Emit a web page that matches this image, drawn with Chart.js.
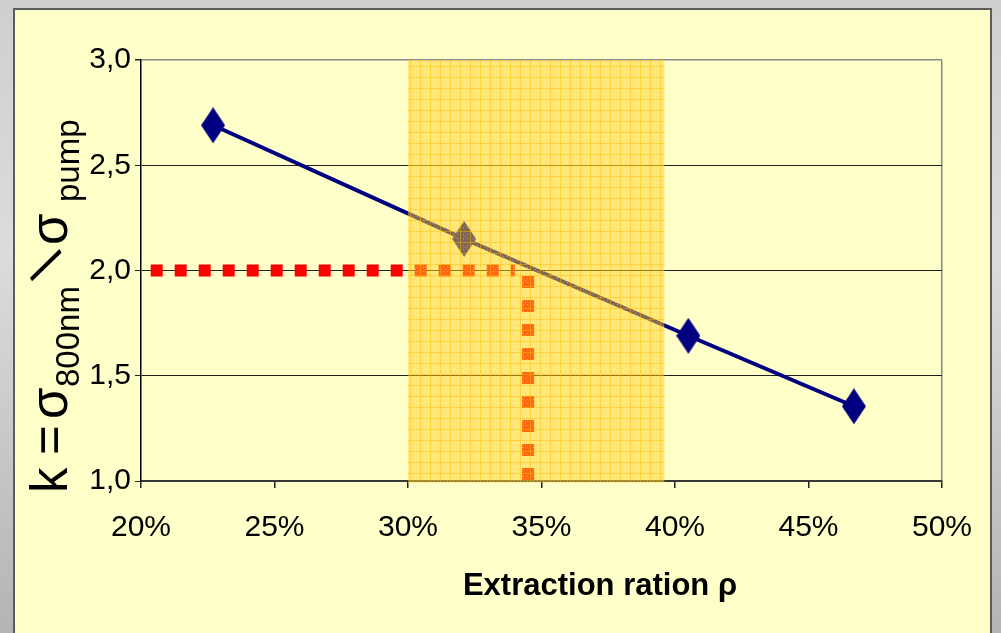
<!DOCTYPE html>
<html>
<head>
<meta charset="utf-8">
<script src="https://cdn.jsdelivr.net/npm/chart.js@4.4.1/dist/chart.umd.min.js"></script>
<style>
  html, body { margin: 0; padding: 0; }
  body {
    width: 1001px; height: 633px; overflow: hidden; position: relative;
    background: linear-gradient(to bottom, #cfcfcf 0, #dcdcdc 40%, #b4b4b4 100%);
  }
  #panel {
    position: absolute; left: 13px; top: 8px; width: 975px; height: 640px;
    background: #FFFFC9;
    border: 2px solid #5c5c5c;
  }
  #wrap { position: absolute; left: 0; top: 0; width: 1001px; height: 633px; }
</style>
</head>
<body>
<div id="panel"></div>
<div id="wrap"><canvas id="chart" width="1001" height="633"></canvas></div>
<script>
  // Measured points (extraction ratio in %, k ratio)
  var rho = [22.7, 32.1, 40.5, 46.7];
  var kRatio = [2.69, 2.15, 1.69, 1.355];

  // Shaded working range on the x axis (%)
  var bandRange = [30, 39.6];

  // Red dotted read-off lines
  var hLineX = [20, 34.0];
  var hLineY = [2.0, 2.0];
  var vLineX = [34.5, 34.5];
  var vLineY = [2.0, 1.0];

  var xTicks = [20, 25, 30, 35, 40, 45, 50];
  var yTicks = [1.0, 1.5, 2.0, 2.5, 3.0];

  var NAVY = "#000080";
  var RED = "#FF0000";
  var FONT = "'Liberation Sans', Arial, sans-serif";

  function pts(xs, ys) {
    return xs.map(function (x, i) { return { x: x, y: ys[i] }; });
  }

  // Tall diamond marker, like the Excel one
  function diamond(w, h, color) {
    var c = document.createElement("canvas");
    c.width = w; c.height = h;
    var g = c.getContext("2d");
    g.fillStyle = color;
    g.beginPath();
    g.moveTo(w / 2, 0);
    g.lineTo(w, h / 2);
    g.lineTo(w / 2, h);
    g.lineTo(0, h / 2);
    g.closePath();
    g.fill();
    return c;
  }

  // Semi transparent hatched yellow used for the band
  function bandPattern(ctx) {
    var c = document.createElement("canvas");
    c.width = 10; c.height = 11;
    var g = c.getContext("2d");
    g.fillStyle = "rgba(255,205,40,0.5)";
    g.fillRect(0, 0, 10, 11);
    g.fillStyle = "rgba(255,190,0,0.45)";
    g.fillRect(0, 0, 1, 11);
    g.fillRect(0, 0, 10, 1);
    g.fillStyle = "rgba(255,255,255,0.35)";
    [[3, 3], [7, 3], [3, 7], [7, 7], [5, 5]].forEach(function (p) { g.fillRect(p[0], p[1], 1, 1); });
    return ctx.createPattern(c, "repeat");
  }

  var bandPlugin = {
    id: "band",
    afterDatasetsDraw: function (chart) {
      var x = chart.scales.x, y = chart.scales.y, ctx = chart.ctx;
      var x0 = x.getPixelForValue(bandRange[0]);
      var x1 = x.getPixelForValue(bandRange[1]);
      var top = y.getPixelForValue(y.max), bot = y.getPixelForValue(y.min);
      ctx.save();
      ctx.fillStyle = bandPattern(ctx);
      ctx.fillRect(x0, top, x1 - x0, bot - top + 1.5);
      ctx.restore();
    }
  };

  // Axis titles (y title has subscripts, so it is drawn by hand)
  var titlePlugin = {
    id: "titles",
    afterDraw: function (chart) {
      var ctx = chart.ctx;
      ctx.save();
      ctx.fillStyle = "#000";
      ctx.textBaseline = "alphabetic";
      ctx.textAlign = "center";
      ctx.font = "bold 31px " + FONT;
      ctx.fillText("Extraction ration \u03c1", 600, 595);
      ctx.restore();

      ctx.save();
      ctx.translate(0, 493);
      ctx.rotate(-Math.PI / 2);
      ctx.fillStyle = "#000";
      ctx.textAlign = "left";
      ctx.textBaseline = "alphabetic";
      var big = "51px " + FONT, small = "33px " + FONT;
      var parts = [
        { t: "k", at: 0, f: big, b: 67 },
        { t: "=", at: 38, f: big, b: 67 },
        { t: "\u03c3", at: 74, f: big, b: 67 },
        { t: "800nm", at: 106, f: small, b: 79 },
        { t: "\u03c3", at: 248, f: big, b: 67 },
        { t: "pump", at: 291, f: small, b: 79 }
      ];
      parts.forEach(function (p) {
        ctx.font = p.f;
        ctx.fillText(p.t, p.at, p.b);
      });
      // slash, slanted as in the original
      ctx.save();
      ctx.translate(230, 49.5);
      ctx.rotate(-29 * Math.PI / 180);
      ctx.scale(-1, 1);
      ctx.font = "54px " + FONT;
      ctx.textAlign = "center";
      ctx.textBaseline = "middle";
      ctx.fillText("/", 0, 0);
      ctx.restore();
      ctx.restore();
    }
  };

  new Chart(document.getElementById("chart").getContext("2d"), {
    type: "line",
    data: {
      datasets: [{
        data: pts(rho, kRatio),
        borderColor: NAVY,
        borderWidth: 4,
        tension: 0,
        pointStyle: diamond(24, 36, NAVY),
        pointRadius: 12,
        pointHoverRadius: 12
      }, {
        data: pts(hLineX, hLineY),
        borderColor: RED,
        borderWidth: 12,
        borderDash: [12, 12],
        borderDashOffset: 14.3,
        borderCapStyle: "butt",
        pointRadius: 0
      }, {
        data: pts(vLineX, vLineY),
        borderColor: RED,
        borderWidth: 12,
        borderDash: [12, 12],
        borderDashOffset: 18.5,
        borderCapStyle: "butt",
        pointRadius: 0
      }]
    },
    options: {
      responsive: false,
      animation: false,
      events: [],
      layout: { padding: { left: 0, top: 60, right: 59, bottom: 0 } },
      plugins: { legend: { display: false }, tooltip: { enabled: false } },
      scales: {
        x: {
          type: "linear",
          min: xTicks[0], max: xTicks[xTicks.length - 1],
          afterFit: function (s) { s.height = 152; },
          afterBuildTicks: function (s) { s.ticks = xTicks.map(function (v) { return { value: v }; }); },
          border: { display: true, color: "#383838", width: 2 },
          grid: {
            drawOnChartArea: true,
            color: function (c) { return c.tick && c.tick.value === 50 ? "#8a8a8a" : "rgba(0,0,0,0)"; },
            lineWidth: 1.5,
            tickColor: "#222",
            tickLength: 7
          },
          ticks: {
            padding: 22,
            color: "#000",
            font: { family: FONT, size: 30 },
            callback: function (v) { return v + "%"; }
          }
        },
        y: {
          min: 1, max: 3,
          afterFit: function (s) { s.width = 141; },
          afterBuildTicks: function (s) { s.ticks = yTicks.map(function (v) { return { value: v }; }); },
          border: { display: true, color: "#000", width: 1.5 },
          grid: {
            color: function (c) { return c.tick && c.tick.value === 3 ? "#8a8a8a" : "#202020"; },
            lineWidth: function (c) { return c.tick && c.tick.value === 3 ? 1.5 : 1; },
            tickColor: "#222",
            tickLength: 6
          },
          ticks: {
            padding: 4,
            color: "#000",
            font: { family: FONT, size: 30 },
            callback: function (v) { return Number(v).toFixed(1).replace(".", ","); }
          }
        }
      }
    },
    plugins: [bandPlugin, titlePlugin]
  });
</script>
</body>
</html>
